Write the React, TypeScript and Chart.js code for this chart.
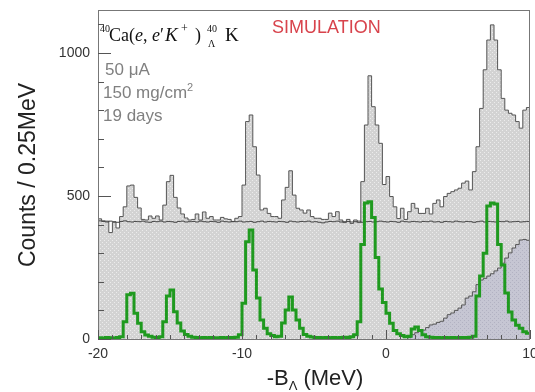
import React, { useEffect, useRef } from 'react';
import { Chart, registerables } from 'chart.js';

Chart.register(...registerables);

// ---- data (0.25 MeV bins from -20 MeV) ----
const BIN_START = -20;
const BIN_WIDTH = 0.25;
const X_MIN = -20;
const X_MAX = 10;
const Y_MAX = 1150;
const X_TICKS = [-20, -10, 0, 10];
const Y_TICKS = [0, 500, 1000];

const totalCounts = [
  420, 413, 412, 372, 408, 388, 428, 462, 535, 538,
  495, 458, 418, 416, 430, 422, 430, 416, 468, 550,
  572, 495, 458, 437, 423, 416, 418, 437, 416, 444,
  422, 428, 416, 416, 425, 420, 418, 410, 422, 428,
  538, 760, 783, 672, 573, 451, 457, 439, 428, 428,
  422, 486, 530, 588, 503, 457, 451, 440, 451, 428,
  422, 422, 418, 418, 440, 428, 445, 416, 407, 418,
  404, 416, 407, 550, 748, 920, 812, 748, 684, 540,
  568, 498, 462, 421, 457, 418, 445, 474, 457, 439,
  439, 457, 437, 474, 486, 462, 498, 509, 515, 521,
  527, 545, 552, 521, 585, 672, 806, 941, 1045, 1098,
  1045, 941, 841, 800, 789, 783, 760, 737, 800, 809,
];

const signalCounts = [
  4, 3, 5, 4, 3, 5, 8, 60, 155, 160,
  90, 55, 25, 14, 10, 6, 5, 8, 60, 150,
  171, 95, 56, 28, 16, 10, 6, 5, 4, 5,
  4, 5, 4, 4, 5, 4, 5, 5, 6, 15,
  125, 340, 381, 241, 143, 66, 38, 18, 12, 8,
  10, 56, 101, 147, 101, 66, 38, 16, 10, 7,
  5, 5, 4, 5, 4, 5, 4, 5, 6, 5,
  8, 15, 60, 330, 475, 480, 425, 285, 175, 128,
  90, 55, 30, 18, 12, 8, 10, 35, 42, 30,
  15, 8, 6, 5, 5, 4, 5, 4, 5, 4,
  5, 5, 5, 6, 10, 150, 220, 300, 465, 475,
  472, 330, 259, 161, 94, 66, 48, 38, 25, 20,
];

const accidentalCounts = [
  413, 411, 409, 412, 410, 408, 411, 413, 410, 409,
  411, 410, 412, 409, 408, 411, 410, 412, 409, 411,
  410, 408, 411, 412, 409, 410, 411, 409, 412, 410,
  409, 411, 410, 408, 412, 410, 409, 411, 410, 412,
  409, 410, 411, 408, 410, 412, 409, 411, 410, 409,
  411, 410, 408, 412, 410, 409, 411, 410, 412, 409,
  410, 408, 406, 409, 411, 410, 412, 409, 410, 411,
  409, 410, 412, 408, 410, 411, 409, 410, 412, 410,
  409, 411, 410, 408, 412, 410, 409, 411, 410, 409,
  411, 410, 412, 409, 410, 408, 411, 410, 409, 412,
  410, 409, 411, 410, 408, 410, 412, 409, 411, 410,
  409, 411, 410, 412, 409, 410, 411, 409, 410, 411,
];

const QUASI_FREE_FIRST_BIN = 86;
const quasiFreeCounts = [
  5, 15, 22, 28, 31, 40, 49, 52, 58, 62,
  73, 85, 91, 100, 108, 119, 143, 150, 165, 190,
  206, 212, 220, 228, 238, 248, 265, 283, 301, 318,
  330, 346, 348, 345,
];

// ---- helpers ----
function histPoints(values: number[], firstBin: number, fromZero: boolean) {
  const pts: { x: number; y: number }[] = [];
  const x0 = BIN_START + firstBin * BIN_WIDTH;
  if (fromZero) pts.push({ x: x0, y: 0 });
  values.forEach((v, i) => pts.push({ x: BIN_START + (firstBin + i) * BIN_WIDTH, y: v }));
  pts.push({ x: BIN_START + (firstBin + values.length) * BIN_WIDTH, y: values[values.length - 1] });
  return pts;
}

const SANS = '"Liberation Sans", Arial, sans-serif';
const SERIF = '"Liberation Serif", "DejaVu Serif", serif';

type Run = { t: string; font: string; dy?: number };

function drawRuns(ctx: CanvasRenderingContext2D, runs: Run[], x: number, y: number) {
  let cx = x;
  for (const r of runs) {
    ctx.font = r.font;
    ctx.fillText(r.t, cx, y + (r.dy || 0));
    cx += ctx.measureText(r.t).width;
  }
  return cx - x;
}

function makePattern(ctx: CanvasRenderingContext2D, base: string, dot: string) {
  const c = document.createElement('canvas');
  c.width = 4;
  c.height = 4;
  const g = c.getContext('2d')!;
  g.fillStyle = base;
  g.fillRect(0, 0, 4, 4);
  g.fillStyle = dot;
  g.fillRect(0, 0, 1, 1);
  g.fillRect(2, 2, 1, 1);
  return ctx.createPattern(c, 'repeat')!;
}

const decorPlugin = {
  id: 'decor',
  afterDraw(chart: any) {
    const { ctx, chartArea: a, scales } = chart;
    const xs = scales.x;
    const ys = scales.y;
    ctx.save();
    // frame
    ctx.strokeStyle = '#777';
    ctx.lineWidth = 1;
    ctx.strokeRect(Math.round(a.left) + 0.5, Math.round(a.top) + 0.5, Math.round(a.right - a.left) - 1, Math.round(a.bottom - a.top));
    // y ticks (inside)
    ctx.strokeStyle = '#555';
    for (let v = 0; v <= 1100; v += 100) {
      const py = Math.round(ys.getPixelForValue(v)) + 0.5;
      const len = Y_TICKS.includes(v) ? 13 : 6;
      ctx.beginPath();
      ctx.moveTo(a.left, py);
      ctx.lineTo(a.left + len, py);
      ctx.stroke();
    }
    // x ticks (inside)
    for (let v = X_MIN; v <= X_MAX; v += 1) {
      const px = Math.round(xs.getPixelForValue(v)) + 0.5;
      const len = X_TICKS.includes(v) ? 9 : 4;
      ctx.beginPath();
      ctx.moveTo(px, a.bottom);
      ctx.lineTo(px, a.bottom - len);
      ctx.stroke();
    }

    // axis titles
    ctx.fillStyle = '#222';
    ctx.textBaseline = 'middle';
    ctx.textAlign = 'center';
    ctx.save();
    ctx.translate(29, 175);
    ctx.rotate(-Math.PI / 2);
    ctx.font = `23px ${SANS}`;
    ctx.fillText('Counts / 0.25MeV', 0, 0);
    ctx.restore();

    ctx.textAlign = 'left';
    ctx.textBaseline = 'alphabetic';
    const xTitle: Run[] = [
      { t: '-B', font: `22px ${SANS}` },
      { t: 'Λ', font: `13px ${SANS}`, dy: 5 },
      { t: ' (MeV)', font: `22px ${SANS}` },
    ];
    let w = 0;
    for (const r of xTitle) {
      ctx.font = r.font;
      w += ctx.measureText(r.t).width;
    }
    drawRuns(ctx, xTitle, 315 - w / 2, 385);

    // reaction label, placed piece by piece
    ctx.fillStyle = '#111';
    const big = `18px ${SERIF}`;
    const bigI = `italic 18px ${SERIF}`;
    const kI = `italic 19px ${SERIF}`;
    const small = `10px ${SERIF}`;
    const pieces: [string, string, number, number][] = [
      ['40', small, 100, 32],
      ['Ca', big, 109, 41],
      ['(', big, 129, 41],
      ['e', bigI, 135, 41],
      [',', big, 143, 41],
      ['e', bigI, 152, 41],
      ['′', big, 160, 41],
      ['K', kI, 165, 41],
      ['+', `12px ${SERIF}`, 181, 32],
      [')', big, 195, 41],
      ['40', small, 207, 32],
      ['Λ', small, 208, 47],
      ['K', `19px ${SERIF}`, 225, 41],
    ];
    for (const [t, f, px, py] of pieces) {
      ctx.font = f;
      ctx.fillText(t, px, py);
    }

    ctx.fillStyle = '#d8434c';
    ctx.font = `18px ${SANS}`;
    ctx.fillText('SIMULATION', 272, 33);

    ctx.fillStyle = '#808080';
    ctx.font = `17px ${SANS}`;
    ctx.fillText('50 μA', 105, 75);
    drawRuns(
      ctx,
      [
        { t: '150 mg/cm', font: `17px ${SANS}` },
        { t: '2', font: `11px ${SANS}`, dy: -7 },
      ],
      103,
      98
    );
    ctx.font = `17px ${SANS}`;
    ctx.fillText('19 days', 103, 121);
    ctx.restore();
  },
};

export default function App() {
  const canvasRef = useRef<HTMLCanvasElement | null>(null);

  useEffect(() => {
    const canvas = canvasRef.current;
    if (!canvas) return;
    const ctx = canvas.getContext('2d')!;
    const grayFill = makePattern(ctx, '#d3d3d3', '#ececec');
    const qfFill = makePattern(ctx, '#c6c6d3', '#b2b2c2');

    const chart = new Chart(ctx, {
      type: 'line',
      data: {
        datasets: [
          {
            label: 'signal',
            data: histPoints(signalCounts, 0, false),
            borderColor: '#1f9a1f',
            borderWidth: 3,
            stepped: true,
            pointRadius: 0,
            fill: false,
          },
          {
            label: 'accidental',
            data: histPoints(accidentalCounts, 0, false),
            borderColor: '#444',
            borderWidth: 1,
            stepped: true,
            pointRadius: 0,
            fill: false,
          },
          {
            label: 'quasi-free',
            data: histPoints(quasiFreeCounts, QUASI_FREE_FIRST_BIN, true),
            borderColor: '#555',
            borderWidth: 1,
            backgroundColor: qfFill,
            stepped: true,
            pointRadius: 0,
            fill: 'origin',
          },
          {
            label: 'total',
            data: histPoints(totalCounts, 0, false),
            borderColor: '#555',
            borderWidth: 1,
            backgroundColor: grayFill,
            stepped: true,
            pointRadius: 0,
            fill: 'origin',
          },
        ],
      },
      options: {
        responsive: false,
        animation: false,
        devicePixelRatio: 1,
        layout: { padding: { left: 0, right: 5, top: 10, bottom: 0 } },
        plugins: { legend: { display: false }, tooltip: { enabled: false }, title: { display: false } },
        elements: { line: { tension: 0, borderJoinStyle: 'miter' } },
        scales: {
          x: {
            type: 'linear',
            min: X_MIN,
            max: X_MAX,
            grid: { display: false, drawTicks: false },
            border: { display: false },
            ticks: {
              padding: 7,
              color: '#333',
              font: { family: SANS, size: 14 },
              maxRotation: 0,
              autoSkip: false,
              callback: (v: any) => String(v),
            },
            afterBuildTicks: (s: any) => {
              s.ticks = X_TICKS.map((value) => ({ value }));
            },
            afterFit: (s: any) => {
              s.height = 53;
              s.paddingLeft = 0;
              s.paddingRight = 0;
            },
          },
          y: {
            type: 'linear',
            min: 0,
            max: Y_MAX,
            grid: { display: false, drawTicks: false },
            border: { display: false },
            ticks: {
              padding: 8,
              color: '#333',
              font: { family: SANS, size: 14 },
              autoSkip: false,
              callback: (v: any) => String(v),
            },
            afterBuildTicks: (s: any) => {
              s.ticks = Y_TICKS.map((value) => ({ value }));
            },
            afterFit: (s: any) => {
              s.width = 98;
              s.paddingTop = 0;
              s.paddingBottom = 0;
            },
          },
        },
      },
      plugins: [decorPlugin],
    } as any);

    return () => chart.destroy();
  }, []);

  return (
    <div style={{ position: 'fixed', left: 0, top: 0, width: 535, height: 392, background: '#fff' }}>
      <canvas ref={canvasRef} width={535} height={392} style={{ display: 'block', width: 535, height: 392 }} />
    </div>
  );
}
